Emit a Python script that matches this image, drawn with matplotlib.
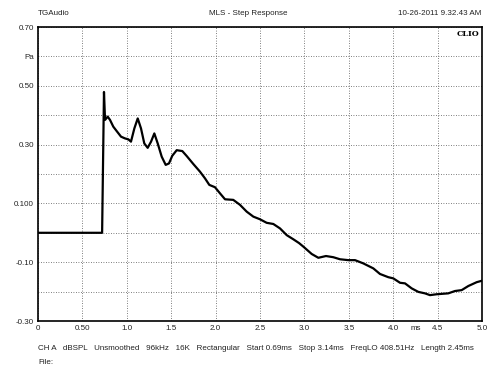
import matplotlib
matplotlib.use('Agg')
import matplotlib.pyplot as plt
import matplotlib.transforms as mtransforms

plt.rcParams['font.family'] = ['Liberation Sans', 'DejaVu Sans']

# step response, time in ms, pressure in Pa
t_ms = [0.0, 0.722, 0.743, 0.755, 0.785, 0.811, 0.848, 0.886, 0.935, 0.980,
        1.017, 1.047, 1.085, 1.123, 1.160, 1.197, 1.235, 1.273, 1.310, 1.348,
        1.393, 1.438, 1.475, 1.512, 1.562, 1.625, 1.675, 1.749, 1.824, 1.881,
        1.929, 1.993, 2.050, 2.106, 2.199, 2.275, 2.350, 2.425, 2.500, 2.575,
        2.650, 2.725, 2.801, 2.875, 2.940, 2.988, 3.082, 3.157, 3.243, 3.325,
        3.401, 3.494, 3.570, 3.663, 3.776, 3.851, 3.945, 4.001, 4.077, 4.133,
        4.208, 4.283, 4.358, 4.414, 4.490, 4.620, 4.696, 4.771, 4.846, 4.940, 5.0]
pa = [0.0, 0.0, 0.479, 0.384, 0.395, 0.384, 0.361, 0.346, 0.327, 0.321,
      0.318, 0.310, 0.355, 0.389, 0.355, 0.304, 0.289, 0.310, 0.338, 0.304,
      0.259, 0.231, 0.236, 0.262, 0.281, 0.278, 0.261, 0.234, 0.208, 0.185,
      0.163, 0.155, 0.134, 0.114, 0.112, 0.095, 0.072, 0.055, 0.046, 0.034,
      0.030, 0.015, -0.008, -0.022, -0.035, -0.047, -0.072, -0.085, -0.079, -0.083,
      -0.090, -0.093, -0.093, -0.104, -0.121, -0.140, -0.151, -0.155, -0.170, -0.172,
      -0.189, -0.201, -0.206, -0.212, -0.209, -0.206, -0.198, -0.195, -0.181, -0.168, -0.163]

x_ticks = [0, 0.5, 1.0, 1.5, 2.0, 2.5, 3.0, 3.5, 4.0, 4.5, 5.0]
x_labels = ['0', '0.50', '1.0', '1.5', '2.0', '2.5', '3.0', '3.5', '4.0', '4.5', '5.0']
y_ticks = [-0.3, -0.2, -0.1, 0.0, 0.1, 0.2, 0.3, 0.4, 0.5, 0.6, 0.7]
y_labels = ['-0.30', '', '-0.10', '', '0.100', '', '0.30', '', '0.50', 'Pa', '0.70']

fs = 5.8
fig = plt.figure(figsize=(5, 3.75), dpi=100)
ax = fig.add_axes([0.076, 0.144, 0.888, 0.784])
ax.plot(t_ms, pa, color='black', lw=1.6, zorder=3)
ax.set_xlim(0, 5)
ax.set_ylim(-0.3, 0.7)
ax.set_xticks(x_ticks, x_labels)
ax.set_yticks(y_ticks, y_labels)
ax.tick_params(length=0, labelsize=fs, colors='#222', pad=3)
ax.grid(True, color='#555', linestyle=(0, (1, 2)), lw=0.6)
for s in ax.spines.values():
    s.set_linewidth(1.2)

trans = mtransforms.blended_transform_factory(ax.transData, ax.transAxes)
ax.text(4.25, -0.012, 'ms', transform=trans, ha='center', va='top', fontsize=fs, color='#222')
ax.text(0.995, 0.99, 'CLIO', transform=ax.transAxes, ha='right', va='top',
        fontsize=fs, fontweight='bold', family='DejaVu Serif')

fig.text(0.076, 0.965, 'TGAudio', ha='left', va='center', fontsize=fs, color='#222')
fig.text(0.496, 0.965, 'MLS - Step Response', ha='center', va='center', fontsize=fs, color='#222')
fig.text(0.962, 0.965, '10-26-2011 9.32.43 AM', ha='right', va='center', fontsize=fs, color='#222')
fig.text(0.076, 0.072, 'CH A   dBSPL   Unsmoothed   96kHz   16K   Rectangular   Start 0.69ms   '
         'Stop 3.14ms   FreqLO 408.51Hz   Length 2.45ms',
         ha='left', va='center', fontsize=fs, color='#222')
fig.text(0.076, 0.032, 'File:', ha='left', va='center', fontsize=fs, color='#222')

fig.savefig('out.png', dpi=100)
